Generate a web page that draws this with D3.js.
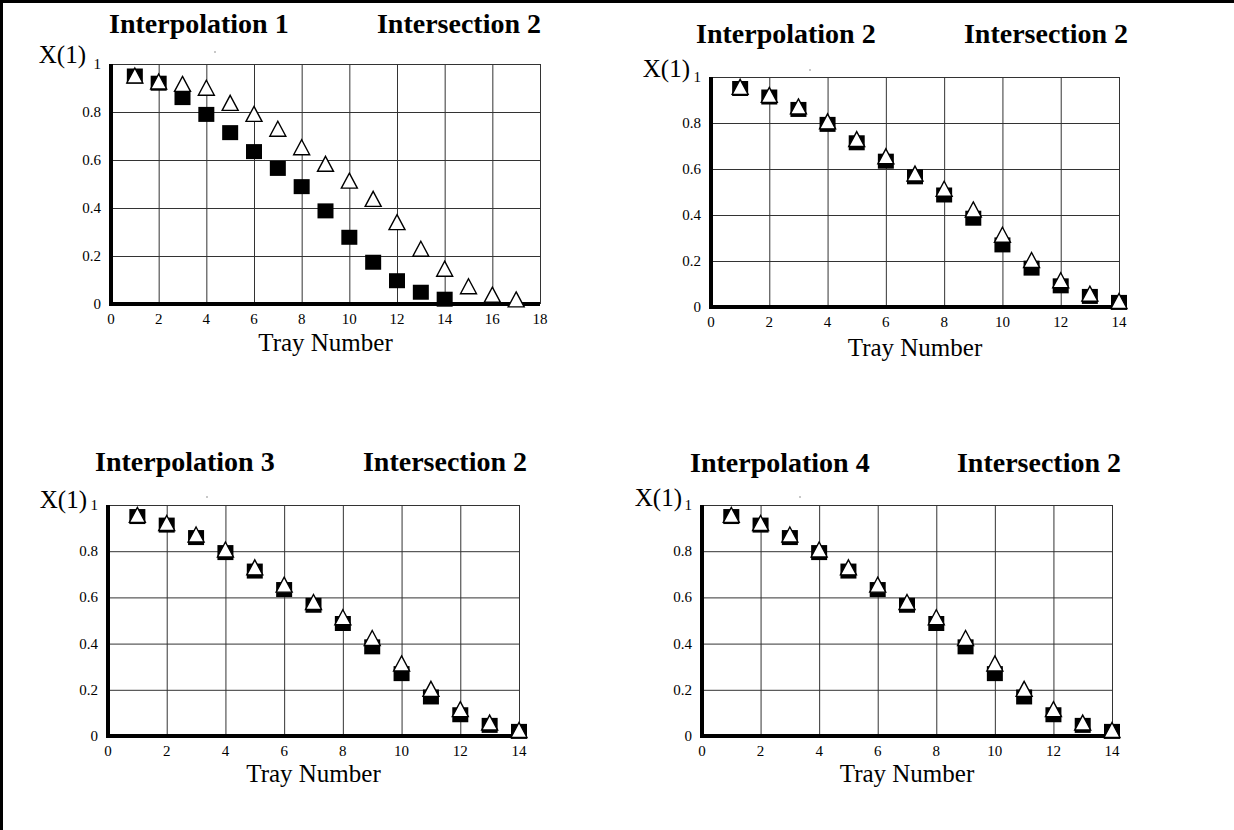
<!DOCTYPE html>
<html>
<head>
<meta charset="utf-8">
<script src="https://cdn.jsdelivr.net/npm/d3@7"></script>
<style>
  html, body { margin: 0; padding: 0; background: #fff; }
  svg { display: block; }
</style>
</head>
<body>
<div id="chart"></div>
<script>
// tray numbers
const trays14 = [1, 2, 3, 4, 5, 6, 7, 8, 9, 10, 11, 12, 13, 14];
const trays17 = [1, 2, 3, 4, 5, 6, 7, 8, 9, 10, 11, 12, 13, 14, 15, 16, 17];

// Interpolation 1
const squares1 = [0.95, 0.92, 0.86, 0.79, 0.714, 0.635, 0.565, 0.489, 0.388, 0.278, 0.174, 0.097, 0.049, 0.02];
const triangles1 = [0.95, 0.925, 0.915, 0.899, 0.836, 0.79, 0.728, 0.651, 0.582, 0.512, 0.436, 0.339, 0.228, 0.145, 0.072, 0.037, 0.017];

// Interpolation 2, 3, 4 (same curves)
const squares2 = [0.95, 0.913, 0.859, 0.794, 0.714, 0.634, 0.566, 0.487, 0.386, 0.27, 0.169, 0.092, 0.046, 0.02];
const triangles2 = [0.955, 0.92, 0.87, 0.805, 0.728, 0.653, 0.578, 0.512, 0.422, 0.312, 0.202, 0.114, 0.056, 0.024];

const yTicks = [0, 0.2, 0.4, 0.6, 0.8, 1];
const xTicks18 = [0, 2, 4, 6, 8, 10, 12, 14, 16, 18];
const xTicks14 = [0, 2, 4, 6, 8, 10, 12, 14];

const panels = [
  { title: "Interpolation 1", sub: "Intersection 2", xMax: 18, xTicks: xTicks18,
    sq: squares1, sqX: trays14, tri: triangles1, triX: trays17,
    left: 111, right: 540, top: 64, bottom: 304,
    titleL: 109, titleR: 541, titleY: 33, labelR: 86, labelY: 63, trayY: 351, dot: [215, 52] },
  { title: "Interpolation 2", sub: "Intersection 2", xMax: 14, xTicks: xTicks14,
    sq: squares2, sqX: trays14, tri: triangles2, triX: trays14,
    left: 711, right: 1119, top: 77, bottom: 307,
    titleL: 696, titleR: 1128, titleY: 43, labelR: 690, labelY: 77, trayY: 356, dot: [810, 70] },
  { title: "Interpolation 3", sub: "Intersection 2", xMax: 14, xTicks: xTicks14,
    sq: squares2, sqX: trays14, tri: triangles2, triX: trays14,
    left: 108, right: 519, top: 505, bottom: 736,
    titleL: 95, titleR: 527, titleY: 471, labelR: 87, labelY: 508, trayY: 782, dot: [207, 497] },
  { title: "Interpolation 4", sub: "Intersection 2", xMax: 14, xTicks: xTicks14,
    sq: squares2, sqX: trays14, tri: triangles2, triX: trays14,
    left: 702, right: 1112, top: 505, bottom: 736,
    titleL: 690, titleR: 1121, titleY: 472, labelR: 682, labelY: 506, trayY: 782, dot: [800, 497] }
];

const W = 1234, H = 830;
const serif = "'Liberation Serif', 'Times New Roman', serif";

const svg = d3.select("#chart").append("svg")
  .attr("width", W)
  .attr("height", H);

// outer frame (top and left edges)
svg.append("line").attr("x1", 0).attr("x2", W).attr("y1", 1.5).attr("y2", 1.5)
  .attr("stroke", "#000").attr("stroke-width", 3);
svg.append("line").attr("x1", 1.5).attr("x2", 1.5).attr("y1", 0).attr("y2", H)
  .attr("stroke", "#000").attr("stroke-width", 3);

const triPath = "M0,-8L8,7L-8,7Z";

panels.forEach(p => {
  const x = d3.scaleLinear().domain([0, p.xMax]).range([p.left, p.right]);
  const y = d3.scaleLinear().domain([0, 1]).range([p.bottom, p.top]);
  const g = svg.append("g");

  // grid
  g.append("g")
    .attr("transform", `translate(0,${p.bottom})`)
    .call(d3.axisBottom(x).tickValues(p.xTicks).tickSize(-(p.bottom - p.top)).tickFormat(""))
    .call(s => s.select(".domain").remove())
    .selectAll("line").attr("stroke", "#333").attr("stroke-width", 1);

  g.append("g")
    .attr("transform", `translate(${p.left},0)`)
    .call(d3.axisLeft(y).tickValues(yTicks).tickSize(-(p.right - p.left)).tickFormat(""))
    .call(s => s.select(".domain").remove())
    .selectAll("line").attr("stroke", "#333").attr("stroke-width", 1);

  // thick left and bottom axes
  g.append("line").attr("x1", p.left).attr("x2", p.left).attr("y1", p.top).attr("y2", p.bottom + 2)
    .attr("stroke", "#000").attr("stroke-width", 4);
  g.append("line").attr("x1", p.left - 2).attr("x2", p.right).attr("y1", p.bottom).attr("y2", p.bottom)
    .attr("stroke", "#000").attr("stroke-width", 4);

  // tick labels
  g.selectAll(".xt").data(p.xTicks).join("text")
    .attr("x", d => x(d)).attr("y", p.bottom + 20)
    .attr("text-anchor", "middle")
    .attr("font-family", serif).attr("font-size", 15)
    .text(d => d);

  g.selectAll(".yt").data(yTicks).join("text")
    .attr("x", p.left - 10).attr("y", d => y(d)).attr("dy", "0.33em")
    .attr("text-anchor", "end")
    .attr("font-family", serif).attr("font-size", 15)
    .text(d => d3.format("~g")(d));

  // squares
  g.selectAll(".sq").data(p.sq).join("rect")
    .attr("x", (d, i) => x(p.sqX[i]) - 8)
    .attr("y", d => y(d) - 7.5)
    .attr("width", 16).attr("height", 15)
    .attr("fill", "#000");

  // triangles
  g.selectAll(".tri").data(p.tri).join("path")
    .attr("d", triPath)
    .attr("transform", (d, i) => `translate(${x(p.triX[i])},${y(d)})`)
    .attr("fill", "#fff").attr("stroke", "#000").attr("stroke-width", 1.4)
    .attr("stroke-linejoin", "miter");

  // titles
  g.append("text").attr("x", p.titleL).attr("y", p.titleY)
    .attr("font-family", serif).attr("font-size", 28).attr("font-weight", "bold")
    .text(p.title);
  g.append("text").attr("x", p.titleR).attr("y", p.titleY)
    .attr("text-anchor", "end")
    .attr("font-family", serif).attr("font-size", 28).attr("font-weight", "bold")
    .text(p.sub);

  // axis labels
  g.append("text").attr("x", p.labelR).attr("y", p.labelY)
    .attr("text-anchor", "end")
    .attr("font-family", serif).attr("font-size", 25)
    .text("X(1)");
  g.append("text").attr("x", (p.left + p.right) / 2).attr("y", p.trayY)
    .attr("text-anchor", "middle")
    .attr("font-family", serif).attr("font-size", 25)
    .text("Tray Number");

  // stray speck seen in each panel
  g.append("circle").attr("cx", p.dot[0]).attr("cy", p.dot[1]).attr("r", 0.7).attr("fill", "#666");
});
</script>
</body>
</html>
